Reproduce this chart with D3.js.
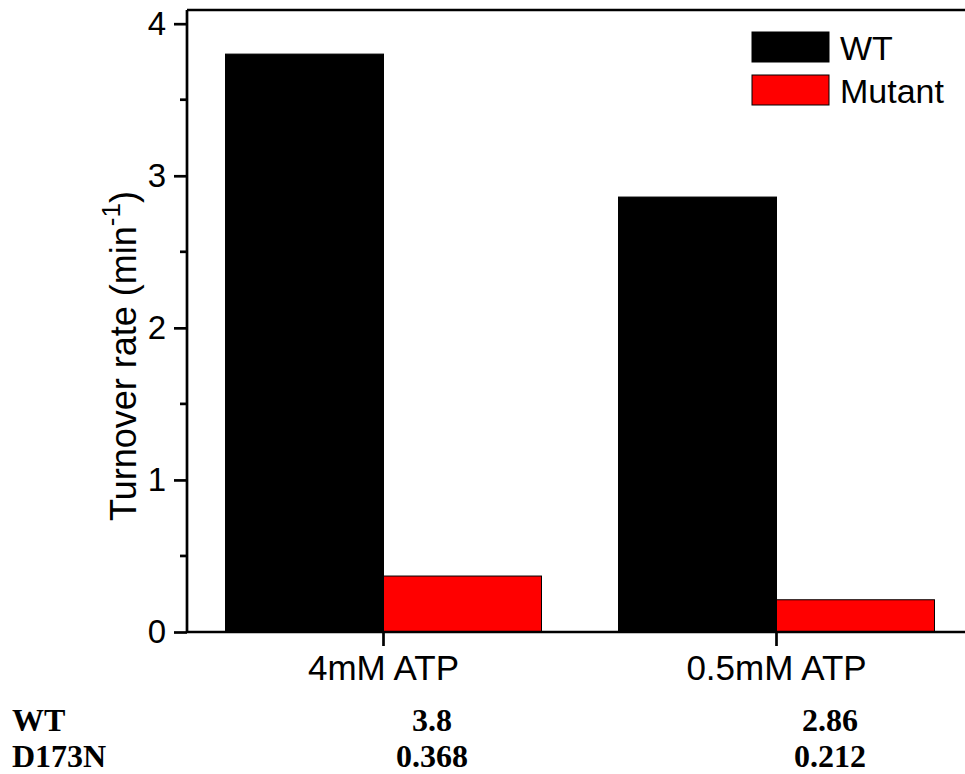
<!DOCTYPE html>
<html>
<head>
<meta charset="utf-8">
<script src="https://cdn.jsdelivr.net/npm/d3@7"></script>
<style>
  body { margin: 0; background: #fff; }
  svg { display: block; }
</style>
</head>
<body>
<svg id="chart" width="965" height="774"></svg>
<script>
// data
const categories = ["4mM ATP", "0.5mM ATP"];
const seriesNames = ["WT", "Mutant"];
const wtValues = [3.8, 2.86];
const mutantValues = [0.368, 0.212];
const yTicks = [0, 1, 2, 3, 4];
const yMinorTicks = [0.5, 1.5, 2.5, 3.5];
const tableRows = ["WT", "D173N"];
const tableValues = [["3.8", "2.86"], ["0.368", "0.212"]];

const colors = { WT: "#000000", Mutant: "#ff0000" };

const svg = d3.select("#chart");
const plotLeft = 187, plotTop = 10, plotRight = 973, plotBottom = 632;

const y = d3.scaleLinear().domain([0, 4.09]).range([plotBottom, plotTop]);
const x = d3.scaleBand().domain(categories).range([plotLeft, plotRight])
  .paddingInner(0.196).paddingOuter(0.098);
const xSub = d3.scaleBand().domain(seriesNames).range([0, x.bandwidth()]);

const rows = categories.map((c, i) => ({ cat: c, WT: wtValues[i], Mutant: mutantValues[i] }));

// bars
svg.append("g")
  .selectAll("g")
  .data(rows)
  .join("g")
  .attr("transform", d => `translate(${x(d.cat)},0)`)
  .selectAll("rect")
  .data(d => seriesNames.map(s => ({ s, v: d[s] })))
  .join("rect")
  .attr("x", d => xSub(d.s))
  .attr("width", xSub.bandwidth())
  .attr("y", d => y(d.v))
  .attr("height", d => y(0) - y(d.v))
  .attr("fill", d => colors[d.s])
  .attr("stroke", "#000")
  .attr("stroke-width", 1);

// frame (top + right)
svg.append("path")
  .attr("d", `M${plotLeft},${plotTop}H${plotRight}V${plotBottom}`)
  .attr("fill", "none")
  .attr("stroke", "#000")
  .attr("stroke-width", 2.7);

// y axis
const yAxis = svg.append("g")
  .attr("transform", `translate(${plotLeft},0)`)
  .call(d3.axisLeft(y).tickValues(yTicks).tickFormat(d3.format("d")).tickSize(13).tickPadding(8));
yAxis.select(".domain").attr("d", `M0,${plotTop}V${plotBottom}`).attr("stroke-width", 2.7);
yAxis.selectAll(".tick line").attr("stroke-width", 2.7);
yAxis.selectAll(".tick text")
  .attr("font-family", "Arial, 'Liberation Sans', sans-serif")
  .attr("font-size", 33)
  .attr("fill", "#000");

svg.append("g")
  .selectAll("line")
  .data(yMinorTicks)
  .join("line")
  .attr("x1", plotLeft - 7)
  .attr("x2", plotLeft)
  .attr("y1", d => y(d))
  .attr("y2", d => y(d))
  .attr("stroke", "#000")
  .attr("stroke-width", 2.7);

// x axis
const xAxis = svg.append("g")
  .attr("transform", `translate(0,${plotBottom})`)
  .call(d3.axisBottom(x).tickSize(14).tickPadding(9));
xAxis.select(".domain").attr("d", `M${plotLeft},0H${plotRight}`).attr("stroke-width", 2.7);
xAxis.selectAll(".tick line").attr("stroke-width", 2.7);
xAxis.selectAll(".tick text")
  .attr("font-family", "Arial, 'Liberation Sans', sans-serif")
  .attr("font-size", 35)
  .attr("fill", "#000");

// y label
const yLabel = svg.append("text")
  .attr("transform", `translate(136,356) rotate(-90)`)
  .attr("text-anchor", "middle")
  .attr("font-family", "Arial, 'Liberation Sans', sans-serif")
  .attr("font-size", 36)
  .attr("fill", "#000");
yLabel.append("tspan").text("Turnover rate (min");
yLabel.append("tspan").attr("font-size", 26).attr("dy", -16).text("-1");
yLabel.append("tspan").attr("dy", 16).text(")");

// legend
const legend = svg.append("g")
  .selectAll("g")
  .data(seriesNames)
  .join("g")
  .attr("transform", (d, i) => `translate(752,${32 + i * 43})`);
legend.append("rect")
  .attr("width", 77)
  .attr("height", 30)
  .attr("fill", d => colors[d])
  .attr("stroke", "#000")
  .attr("stroke-width", 1);
legend.append("text")
  .attr("x", 88)
  .attr("y", 28)
  .attr("font-family", "Arial, 'Liberation Sans', sans-serif")
  .attr("font-size", 34)
  .attr("fill", "#000")
  .text(d => d);

// table below
const tableColX = [432, 830];
const table = svg.append("g")
  .attr("font-family", "'Times New Roman', 'Liberation Serif', serif")
  .attr("font-weight", "bold")
  .attr("font-size", 32)
  .attr("fill", "#000");
tableRows.forEach((r, i) => {
  const by = 731 + i * 36;
  table.append("text").attr("x", 12).attr("y", by).text(r);
  tableValues[i].forEach((v, j) => {
    table.append("text").attr("x", tableColX[j]).attr("y", by)
      .attr("text-anchor", "middle").text(v);
  });
});
</script>
</body>
</html>
